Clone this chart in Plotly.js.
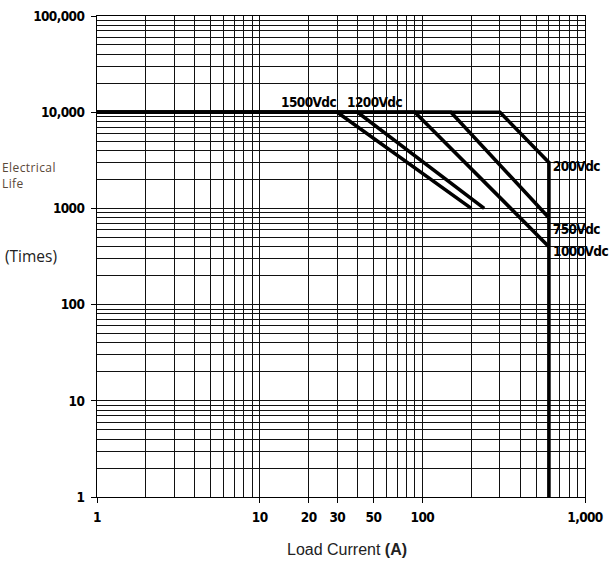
<!DOCTYPE html>
<html>
<head>
<meta charset="utf-8">
<script src="https://cdn.plot.ly/plotly-3.0.1.min.js"></script>
<style>
html,body{margin:0;padding:0;background:#fff;}
#chart{width:612px;height:564px;}
#chart .xtick text, #chart .ytick text,
#chart .annotation[data-index="0"] text, #chart .annotation[data-index="1"] text,
#chart .annotation[data-index="2"] text, #chart .annotation[data-index="3"] text,
#chart .annotation[data-index="4"] text { letter-spacing: -0.6px; }
#chart .annotation[data-index="5"] text { letter-spacing: 0.4px; }
</style>
</head>
<body>
<div id="chart"></div>
<script>
// ---- data ----
const xTickVals = [1, 10, 20, 30, 50, 100, 1000];
const xTickText = ['1', '10', '20', '30', '50', '100', '1,000'];
const yTickVals = [1, 10, 100, 1000, 10000, 100000];
const yTickText = ['1', '10', '100', '1000', '10,000', '100,000'];
const minorVals = [2,3,4,5,6,7,8,9,20,30,40,50,60,70,80,90,200,300,400,500,600,700,800,900,2000,3000,4000,5000,6000,7000,8000,9000,20000,30000,40000,50000,60000,70000,80000,90000];

const curveNames = ['1500Vdc', '1200Vdc', '1000Vdc', '750Vdc', '200Vdc'];
const current1500 = [1, 30, 200];
const life1500    = [10000, 10000, 1000];
const current1200 = [1, 40, 240];
const life1200    = [10000, 10000, 1000];
const current1000 = [1, 90, 600];
const life1000    = [10000, 10000, 400];
const current750  = [1, 150, 600];
const life750     = [10000, 10000, 800];
const current200  = [1, 300, 600, 600];
const life200     = [10000, 10000, 3000, 1];

const seriesX = [current1500, current1200, current1000, current750, current200];
const seriesY = [life1500, life1200, life1000, life750, life200];

const narrow = '"Liberation Sans Narrow", "Arial Narrow", "DejaVu Sans Condensed", "Liberation Sans", sans-serif';
const labelFont = {family: narrow, size: 13.5, color: '#000', weight: 'bold'};
const tickFont = {family: narrow, size: 13.5, color: '#000', weight: 'bold'};

const traces = seriesX.map((xs, i) => ({
  type: 'scatter', mode: 'lines', name: curveNames[i],
  x: xs, y: seriesY[i],
  line: {color: '#000', width: 3.6},
  hoverinfo: 'x+y+name', cliponaxis: false
}));

// plot area in page pixels: left 97, right 585, top 16, bottom 497
const PL = 97, PW = 488, PT = 16, PH = 481;
const px = v => (v - PL) / PW;
const py = v => (PT + PH - v) / PH;

const layout = {
  width: 612, height: 564,
  margin: {l: PL, r: 612 - PL - PW, t: PT, b: 564 - PT - PH, pad: 0},
  paper_bgcolor: '#fff', plot_bgcolor: '#fff',
  showlegend: false,
  font: {family: '"Liberation Sans", Arial, sans-serif', color: '#000'},
  xaxis: {
    type: 'log', range: [0, 3], automargin: false,
    tickmode: 'array', tickvals: xTickVals, ticktext: xTickText,
    ticks: 'outside', ticklen: 5, tickcolor: '#000', tickwidth: 1,
    tickfont: tickFont, ticklabelstandoff: 3,
    showgrid: true, gridcolor: '#111', gridwidth: 1,
    minor: {tickmode: 'array', tickvals: minorVals, showgrid: true, gridcolor: '#111', gridwidth: 1, ticks: ''},
    showline: true, linecolor: '#000', linewidth: 1, mirror: true,
    zeroline: false
  },
  yaxis: {
    type: 'log', range: [0, 5], automargin: false,
    tickmode: 'array', tickvals: yTickVals, ticktext: yTickText,
    ticks: 'outside', ticklen: 5, tickcolor: '#000', tickwidth: 1,
    tickfont: tickFont, ticklabelstandoff: 4,
    showgrid: true, gridcolor: '#111', gridwidth: 1,
    minor: {tickmode: 'array', tickvals: minorVals, showgrid: true, gridcolor: '#111', gridwidth: 1, ticks: ''},
    showline: true, linecolor: '#000', linewidth: 1, mirror: true,
    zeroline: false
  },
  annotations: [
    {x: Math.log10(30), y: 4, xref: 'x', yref: 'y', text: curveNames[0], showarrow: false,
     xanchor: 'right', yanchor: 'bottom', xshift: 3, yshift: 0, font: labelFont},
    {x: Math.log10(33.5), y: 4, xref: 'x', yref: 'y', text: curveNames[1], showarrow: false,
     xanchor: 'left', yanchor: 'bottom', xshift: -2, yshift: 0, font: labelFont},
    {x: Math.log10(600), y: Math.log10(3000), xref: 'x', yref: 'y', text: curveNames[4], showarrow: false,
     xanchor: 'left', yanchor: 'middle', xshift: 0, yshift: -3, font: labelFont},
    {x: Math.log10(600), y: Math.log10(800), xref: 'x', yref: 'y', text: curveNames[3], showarrow: false,
     xanchor: 'left', yanchor: 'top', xshift: 0, yshift: -1, font: labelFont},
    {x: Math.log10(600), y: Math.log10(400), xref: 'x', yref: 'y', text: curveNames[2], showarrow: false,
     xanchor: 'left', yanchor: 'middle', xshift: 0, yshift: -4, font: labelFont},
    {x: px(0), y: py(175.5), xref: 'paper', yref: 'paper', text: 'Electrical<br>Life', showarrow: false,
     xanchor: 'left', yanchor: 'middle', align: 'left',
     font: {family: '"Open Sans", "Noto Sans", sans-serif', size: 12, color: '#5a4838'}},
    {x: px(3), y: py(256), xref: 'paper', yref: 'paper', text: '(Times)', showarrow: false,
     xanchor: 'left', yanchor: 'middle',
     font: {family: '"Open Sans", "Noto Sans", sans-serif', size: 15.5, color: '#222'}},
    {x: px(347), y: py(549), xref: 'paper', yref: 'paper', text: 'Load Current <b>(A)</b>', showarrow: false,
     xanchor: 'center', yanchor: 'middle',
     font: {family: '"Liberation Sans", Arial, sans-serif', size: 16, color: '#222'}}
  ]
};

Plotly.newPlot('chart', traces, layout, {displayModeBar: false, staticPlot: true});
</script>
</body>
</html>
